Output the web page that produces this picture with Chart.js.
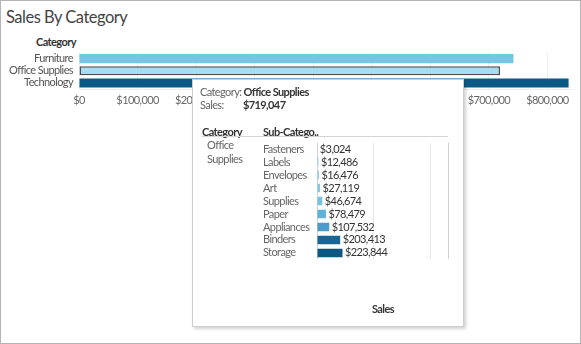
<!DOCTYPE html>
<html>
<head>
<meta charset="utf-8">
<script src="https://cdn.jsdelivr.net/npm/chart.js@4.4.0/dist/chart.umd.min.js"></script>
<style>
  body { margin: 0; width: 581px; height: 344px; position: relative; overflow: hidden; background: #fff; font-family: Lato, sans-serif; }
  #frame { position: absolute; left: 0; top: 0; width: 579px; height: 342px; border: 1px solid #b4b4b4; }
  .t { position: absolute; white-space: nowrap; font-size: 11px; line-height: 13px; color: #666; letter-spacing: -0.6px; }
  .b { font-weight: bold; color: #333; }
  #title { left: 6px; top: 7px; font-size: 16.5px; line-height: 20px; color: #444; letter-spacing: -0.5px; }
  #mainCanvas { position: absolute; left: 0; top: 40px; }
  #tip { position: absolute; left: 192px; top: 79px; width: 270px; height: 246px; background: #fff; border: 1px solid #cfcfcf; box-shadow: 2px 2px 3px rgba(0,0,0,0.18); }
  #subCanvas { position: absolute; left: 258px; top: 136px; }
  #hdrLine { position: absolute; left: 202px; top: 136px; width: 246px; border-top: 1px solid #d4d4d4; }
</style>
</head>
<body>
<div id="frame"></div>
<div class="t" id="title">Sales By Category</div>
<div class="t b" style="left:36px; top:35px;">Category</div>
<canvas id="mainCanvas" width="576" height="70"></canvas>

<div id="tip"></div>
<div class="t" style="left:200px; top:85px;">Category: <span class="b">Office Supplies</span></div>
<div class="t" style="left:200px; top:98px;">Sales:</div>
<div class="t b" style="left:243px; top:98px;">$719,047</div>
<div class="t b" style="left:202px; top:125px;">Category</div>
<div class="t b" style="left:263px; top:125px;">Sub-Catego..</div>
<div id="hdrLine"></div>
<div class="t" style="left:207px; top:138px;">Office</div>
<div class="t" style="left:207px; top:152px;">Supplies</div>
<canvas id="subCanvas" width="191" height="130"></canvas>
<div class="t b" style="left:372px; top:302px;">Sales</div>

<script>
// main chart data
const categories = ['Furniture', 'Office Supplies', 'Technology'];
const categorySales = [741999, 719047, 836154];
const categoryColors = ['#78c4e4', '#a6ddf2', '#0b5a86'];
const salesTicks = [0, 100000, 200000, 300000, 400000, 500000, 600000, 700000, 800000];

// tooltip drill-down data (Office Supplies)
const subCategories = ['Fasteners', 'Labels', 'Envelopes', 'Art', 'Supplies', 'Paper', 'Appliances', 'Binders', 'Storage'];
const subSales = [3024, 12486, 16476, 27119, 46674, 78479, 107532, 203413, 223844];
const subColors = ['#a9dcf0', '#8dcfea', '#8acde9', '#82c9e6', '#77c3e3', '#5fb3da', '#4a9ccb', '#1a6592', '#0b5781'];
const subTicks = [0, 500000, 1000000, 1150000];

const money = v => '$' + v.toLocaleString('en-US');

// tableau's font is narrower than Lato, tighten the canvas text a bit
const tightText = {
    id: 'tightText',
    beforeDraw(chart) { chart.ctx.letterSpacing = '-0.6px'; }
};

new Chart(document.getElementById('mainCanvas'), {
    type: 'bar',
    data: {
        labels: categories,
        datasets: [{
            data: categorySales,
            backgroundColor: categoryColors,
            borderColor: '#4d4d4d',
            borderWidth: [0, 1.5, 0],
            borderSkipped: false,
            categoryPercentage: 1,
            barPercentage: 0.75
        }]
    },
    options: {
        indexAxis: 'y',
        responsive: false,
        animation: false,
        events: [],
        layout: { padding: { top: 7 } },
        plugins: { legend: { display: false }, tooltip: { enabled: false } },
        scales: {
            x: {
                min: 0,
                max: 845000,
                afterBuildTicks: s => { s.ticks = salesTicks.map(v => ({ value: v })); },
                ticks: { callback: v => money(v), color: '#666', font: { family: 'Lato', size: 11 }, padding: 5, maxRotation: 0, autoSkip: false },
                grid: { color: '#efefef', drawTicks: false },
                border: { display: true, color: '#eeeeee' },
                afterFit: s => { s.height = 21; }
            },
            y: {
                ticks: { color: '#555', font: { family: 'Lato', size: 11 }, padding: 6, autoSkip: false },
                grid: { display: false, drawTicks: false },
                border: { display: false },
                afterFit: s => { s.width = 79; }
            }
        }
    },
    plugins: [tightText]
});

const valueLabels = {
    id: 'valueLabels',
    afterDatasetsDraw(chart) {
        const ctx = chart.ctx;
        const meta = chart.getDatasetMeta(0);
        ctx.save();
        ctx.font = '11px Lato';
        ctx.fillStyle = '#333';
        ctx.textBaseline = 'middle';
        meta.data.forEach((bar, i) => {
            ctx.fillText(money(subSales[i]), bar.x + 2.5, bar.y);
        });
        ctx.restore();
    }
};

new Chart(document.getElementById('subCanvas'), {
    type: 'bar',
    data: {
        labels: subCategories,
        datasets: [{
            data: subSales,
            backgroundColor: subColors,
            categoryPercentage: 1,
            barPercentage: 0.65
        }]
    },
    options: {
        indexAxis: 'y',
        responsive: false,
        animation: false,
        events: [],
        layout: { padding: { left: 5, right: 1 } },
        plugins: { legend: { display: false }, tooltip: { enabled: false } },
        scales: {
            x: {
                min: 0,
                max: 1150000,
                afterBuildTicks: s => { s.ticks = subTicks.map(v => ({ value: v })); },
                ticks: { display: false },
                grid: { drawTicks: false, color: c => (c.tick && (c.tick.value === 0 || c.tick.value === 1150000)) ? '#d0d0d0' : '#e8e8e8' },
                border: { display: false },
                afterFit: s => { s.height = 0; }
            },
            y: {
                ticks: { crossAlign: 'far', color: '#666', font: { family: 'Lato', size: 11 }, padding: 0, autoSkip: false },
                grid: { display: false, drawTicks: false },
                border: { display: false },
                afterFit: s => { s.width = 54; }
            }
        }
    },
    plugins: [tightText, valueLabels]
});
</script>
</body>
</html>
